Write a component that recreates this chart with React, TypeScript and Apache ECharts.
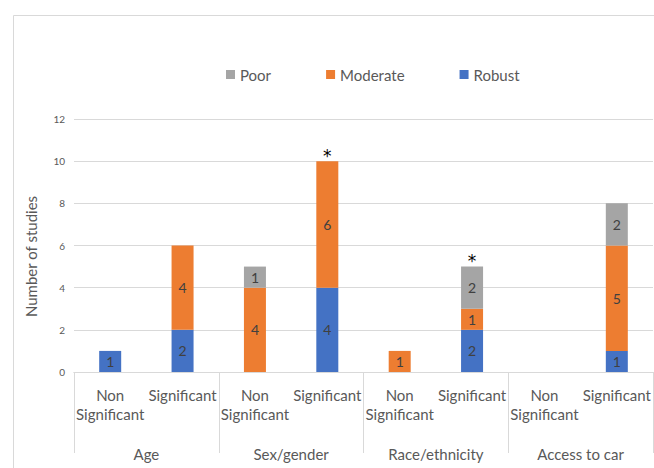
import React, { useEffect, useRef } from "react";
import * as echarts from "echarts";

const levels = ["Non\nSignificant", "Significant", "Non\nSignificant", "Significant", "Non\nSignificant", "Significant", "Non\nSignificant", "Significant"];
const groups = ["Age", "Sex/gender", "Race/ethnicity", "Access to car"];
const robust = [1, 2, 0, 4, 0, 2, 0, 1];
const moderate = [0, 4, 4, 6, 1, 1, 0, 5];
const poor = [0, 0, 1, 0, 0, 2, 0, 2];
const marks = ["", "", "", "*", "", "*", "", ""];
const yTicks = { min: 0, max: 12, interval: 2 };

const FONT = "Lato";
const GREY = "#595959";
const LINE = "#d9d9d9";

export default function App() {
  const ref = useRef<HTMLDivElement>(null);
  useEffect(() => {
    if (!ref.current) return;
    const chart = echarts.init(ref.current, null, { renderer: "svg" });
    const labelCfg = {
      show: true,
      position: "inside",
      fontFamily: FONT,
      fontSize: 14,
      color: "#404040",
      formatter: (p: any) => (p.value ? String(p.value) : ""),
    };
    chart.setOption({
      animation: false,
      textStyle: { fontFamily: FONT },
      graphic: [
        {
          type: "rect",
          left: 11,
          top: 13,
          shape: { width: 700, height: 500 },
          style: { fill: "none", stroke: LINE, lineWidth: 1 },
          silent: true,
        },
      ],
      legend: {
        data: ["Poor", "Moderate", "Robust"],
        left: 221,
        top: 62,
        itemWidth: 9,
        itemHeight: 9,
        itemGap: 55,
        icon: "rect",
        textStyle: { fontFamily: FONT, fontSize: 15, color: GREY },
      },
      grid: { left: 74, right: 1, top: 119, bottom: 96 },
      xAxis: [
        {
          type: "category",
          data: levels,
          axisLine: { show: true, lineStyle: { color: LINE } },
          axisTick: { show: false },
          axisLabel: {
            interval: 0,
            margin: 13,
            fontFamily: FONT,
            fontSize: 15,
            lineHeight: 19,
            color: GREY,
          },
        },
        {
          type: "category",
          data: groups,
          position: "bottom",
          axisLine: { show: true, lineStyle: { color: LINE } },
          axisTick: { show: true, length: 81, lineStyle: { color: LINE } },
          axisLabel: {
            interval: 0,
            margin: 74,
            fontFamily: FONT,
            fontSize: 15,
            color: GREY,
          },
        },
      ],
      yAxis: {
        type: "value",
        min: yTicks.min,
        max: yTicks.max,
        interval: yTicks.interval,
        name: "Number of studies",
        nameLocation: "middle",
        nameGap: 36,
        nameTextStyle: { fontFamily: FONT, fontSize: 15, color: GREY, padding: [0, 22, 0, 0] },
        axisLine: { show: false },
        axisTick: { show: false },
        axisLabel: { fontFamily: FONT, fontSize: 10, color: GREY, margin: 9 },
        splitLine: { lineStyle: { color: LINE } },
      },
      series: [
        {
          name: "Robust",
          type: "bar",
          stack: "total",
          barWidth: 22,
          data: robust,
          itemStyle: { color: "#4472C4" },
          label: labelCfg,
        },
        {
          name: "Moderate",
          type: "bar",
          stack: "total",
          barWidth: 22,
          data: moderate,
          itemStyle: { color: "#ED7D31" },
          label: labelCfg,
        },
        {
          name: "Poor",
          type: "bar",
          stack: "total",
          barWidth: 22,
          data: poor,
          itemStyle: { color: "#A5A5A5" },
          label: labelCfg,
        },
        {
          name: "sig",
          type: "bar",
          stack: "total",
          barWidth: 22,
          data: marks.map(() => 0),
          itemStyle: { color: "transparent" },
          label: {
            show: true,
            position: "top",
            distance: -3,
            fontFamily: "DejaVu Sans",
            fontSize: 17,
            color: "#000",
            formatter: (p: any) => marks[p.dataIndex],
          },
        },
      ],
    });
    return () => chart.dispose();
  }, []);
  return <div ref={ref} style={{ position: "absolute", left: 0, top: 0, width: 654, height: 468 }} />;
}
